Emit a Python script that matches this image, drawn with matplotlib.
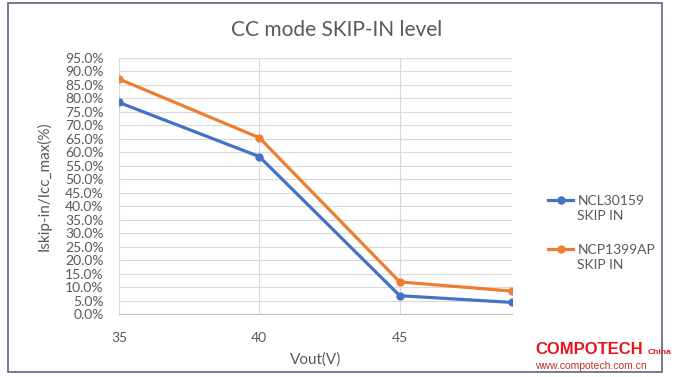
import matplotlib
matplotlib.use('Agg')
from matplotlib import pyplot as plt
from matplotlib.patches import Rectangle
from matplotlib.text import Annotation
from matplotlib.ticker import PercentFormatter

vout = [35, 40, 45, 49]
ncl30159 = [78.5, 58.4, 6.8, 4.3]
ncp1399ap = [87.2, 65.4, 11.9, 8.5]

plt.rcParams['font.family'] = ['Lato', 'DejaVu Sans']
grey = '#595959'

fig = plt.figure(figsize=(6.74, 3.77), dpi=100)
ax = fig.add_axes([119 / 674, 1 - 314 / 377, (512 - 119) / 674, (314 - 58) / 377])

ax.plot(vout, ncl30159, '-o', color='#4472C4', lw=2.3, ms=5, label='NCL30159', zorder=3)
ax.plot(vout, ncp1399ap, '-o', color='#ED7D31', lw=2.3, ms=5, label='NCP1399AP', zorder=3)

ax.set_xlim(35, 49)
ax.set_ylim(0, 95)
ax.set_xticks([35, 40, 45])
ax.set_yticks(range(0, 96, 5))
ax.yaxis.set_major_formatter(PercentFormatter(decimals=1))
ax.grid(True, color='#D9D9D9', lw=0.8)
ax.set_axisbelow(True)
for s in ['top', 'right', 'left']:
    ax.spines[s].set_visible(False)
ax.spines['bottom'].set_color('#BFBFBF')
ax.tick_params(axis='both', length=0, colors=grey, labelsize=10)
ax.tick_params(axis='x', pad=13)
ax.tick_params(axis='y', pad=11)

ax.set_xlabel('Vout(V)', color=grey, fontsize=11, labelpad=6)
ax.set_ylabel('Iskip-in/Icc_max(%)', color=grey, fontsize=11, labelpad=10)
fig.text(0.5, 0.92, 'CC mode SKIP-IN level', ha='center', va='center', color=grey, fontsize=15)

leg = fig.legend(loc='center left', bbox_to_anchor=(0.795, 0.402), frameon=False, fontsize=10,
                 labelcolor=grey, handlelength=1.8, handletextpad=0.3, labelspacing=2.65)
# second line of each legend label, hung under the first (drawn after the legend)
for t in leg.get_texts():
    fig.add_artist(Annotation('SKIP IN', xy=(0, 0), xycoords=t, xytext=(0, -2),
                              textcoords='offset points', va='top', ha='left',
                              color=grey, fontsize=10, zorder=10))

fig.patches.append(Rectangle((8 / 674, 1 - 372 / 377), 654 / 674, 369 / 377, transform=fig.transFigure,
                             fill=False, ec='#5B6580', lw=1.2))

fig.text(535 / 674, 1 - 350 / 377, 'COMPOTECH', color='#E8141B', fontsize=12, fontweight='bold',
         family='Liberation Sans', va='center', ha='left')
fig.text(648 / 674, 1 - 352 / 377, 'China', color='#E8141B', fontsize=6, fontweight='bold',
         family='Liberation Sans', va='center', ha='left')
fig.text(535 / 674, 1 - 366 / 377, 'www.compotech.com.cn', color='#C03030', fontsize=7.5,
         family='Liberation Sans', va='center', ha='left')

fig.savefig('out.png', dpi=100)
